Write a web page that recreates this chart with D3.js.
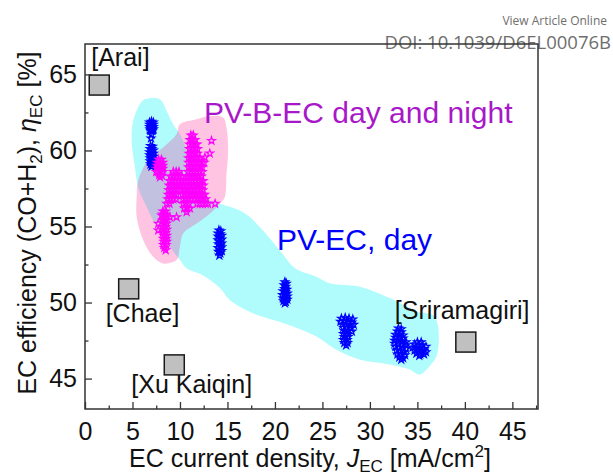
<!DOCTYPE html>
<html>
<head>
<meta charset="utf-8">
<script src="https://cdn.jsdelivr.net/npm/d3@7"></script>
<style>
body{margin:0;background:#fff;}
svg text{font-family:"Liberation Sans",Arial,sans-serif;}
</style>
</head>
<body>
<div id="canvas"></div>
<script>
// tick values
var xTicks = [0,5,10,15,20,25,30,35,40,45];
var xMinor = [2.5,7.5,12.5,17.5,22.5,27.5,32.5,37.5,42.5,47.5];
var yTicks = [45,50,55,60,65];
var yMinor = [47.5,52.5,57.5,62.5];

// literature points
var refLabels = ['[Arai]','[Chae]','[Xu Kaiqin]','[Sriramagiri]'];
var refX = [1.5, 4.6, 9.4, 40.1];
var refY = [64.3, 50.9, 45.9, 47.4];

// shaded regions [J, eta]
var pvecRegion = [[6.31,63.36],[7.89,63.36],[8.59,62.6],[9.28,61.73],[9.99,61.08],[11.57,58.68],[13.14,56.72],
  [14.2,56.5],[16.3,56.06],[17.35,55.62],[18.72,54.75],[20.5,53.44],[22.08,52.27],[24.36,51.7],[25.76,51.27],
  [28.92,51.04],[31.34,50.5],[33.12,49.98],[34.88,49.41],[36.8,49.08],[37.12,46.69],[36.28,45.81],[35.23,45.27],
  [34.17,45.6],[32.07,45.92],[28.92,46.25],[26.47,46.9],[24.36,47.77],[20.85,48.65],[19.1,48.98],[17.35,49.39],
  [15.25,50.17],[14.2,50.96],[12.4,51.8],[10.7,52.25],[10.0,52.79],[8.94,53.66],[7.54,54.97],[6.49,56.28],
  [5.6,57.58],[5.26,58.89],[4.91,60.64],[5.08,61.95],[5.78,63.04]];
var pvbecRegion = [[9.99,61.73],[11.75,62.06],[13.14,62.27],[14.54,62.16],[14.9,61.51],[15.07,59.98],[14.9,58.46],
  [14.72,56.93],[14.2,56.5],[13.14,55.84],[11.75,55.19],[10.34,54.54],[9.99,53.66],[9.64,52.79],[8.23,52.57],
  [7.18,53.01],[6.13,54.1],[5.44,55.62],[5.44,56.93],[5.6,58.02],[6.83,59.55],[8.23,60.2],[9.64,61.08]];

// PV-EC (day) measurements
var pvecPoints = [
  [6.8,61.85],[7.0,61.9],[7.2,61.85],[6.8,61.7],[7.0,61.7],[7.2,61.7],[6.8,61.55],[7.0,61.55],[7.2,61.55],
  [6.85,61.4],[7.05,61.4],[7.2,61.4],[6.9,61.3],[7.1,61.3],[7.0,61.05],[6.95,60.8],
  [6.9,60.3],[7.1,60.25],[6.85,60.1],[7.05,60.1],[7.2,60.0],[6.8,59.9],[7.0,59.85],[7.2,59.8],[6.8,59.7],
  [7.0,59.65],[7.2,59.6],[6.85,59.5],[7.05,59.45],[7.2,59.4],[6.85,59.3],[7.05,59.25],[6.9,59.1],[7.1,59.1],[7.0,58.95],
  [14.1,54.75],[14.3,54.7],[14.0,54.55],[14.25,54.5],[14.4,54.4],[14.0,54.35],[14.2,54.25],[14.4,54.15],[14.0,54.1],
  [14.2,54.0],[14.4,53.9],[14.05,53.85],[14.25,53.75],[14.4,53.65],[14.0,53.6],[14.2,53.5],[14.4,53.4],[14.05,53.35],
  [14.25,53.25],[14.15,53.1],
  [21.05,51.35],[21.2,51.25],[20.95,51.15],[21.15,51.05],[21.0,50.9],[21.25,50.85],[20.85,50.75],[21.1,50.7],
  [21.3,50.6],[20.8,50.5],[21.05,50.5],[21.3,50.4],[20.85,50.3],[21.1,50.25],[21.3,50.2],[20.9,50.1],[21.15,50.05],[21.05,49.95],
  [27.0,48.95],[27.4,49.0],[27.8,48.95],[28.2,48.9],[26.9,48.75],[27.3,48.8],[27.7,48.75],[28.1,48.7],[27.1,48.55],
  [27.5,48.55],[27.9,48.5],[28.3,48.55],[27.2,48.35],[27.6,48.35],[28.0,48.3],[27.3,48.15],[27.7,48.15],[28.1,48.1],
  [27.2,47.95],[27.6,47.95],[27.3,47.75],[27.7,47.75],[27.2,47.55],[27.6,47.55],[27.3,47.35],[27.65,47.35],[27.5,47.2],
  [33.0,48.3],[33.3,48.25],[32.9,48.1],[33.3,48.05],[32.7,47.9],[33.1,47.9],[33.5,47.85],[32.7,47.7],[33.1,47.7],
  [33.5,47.65],[32.6,47.5],[33.0,47.5],[33.4,47.45],[33.8,47.4],[32.6,47.3],[33.0,47.3],[33.4,47.25],[33.8,47.2],
  [32.7,47.1],[33.1,47.05],[33.5,47.0],[33.8,46.95],[32.8,46.85],[33.2,46.8],[33.6,46.75],[32.9,46.6],[33.3,46.55],
  [33.7,46.55],[33.1,46.4],[33.5,46.35],[33.3,46.25],
  [35.0,47.4],[35.4,47.4],[34.7,47.25],[35.1,47.2],[35.5,47.2],[35.9,47.1],[34.5,47.05],[34.9,47.0],[35.3,47.0],
  [35.7,46.95],[34.7,46.85],[35.1,46.8],[35.5,46.8],[35.9,46.75],[34.9,46.65],[35.3,46.6],[35.7,46.6],[35.2,46.5]
];

// PV-B-EC (day and night) measurements
var pvbecPoints = [
  [7.75,59.4],[8.05,59.4],[7.6,59.2],[7.9,59.2],[8.2,59.2],[7.6,59.0],[7.9,59.0],[8.2,59.0],[7.6,58.8],[7.9,58.8],
  [8.2,58.8],[7.65,58.6],[7.95,58.6],[8.2,58.6],[7.8,58.4],[8.1,58.35],[7.9,58.25],
  [8.2,56.0],[8.5,56.0],[8.2,55.8],[8.5,55.8],[8.3,55.6],[8.6,55.6],[8.2,55.4],[8.5,55.4],[8.3,55.2],[8.6,55.2],
  [8.2,55.0],[8.5,55.0],[8.3,54.8],[8.6,54.8],[8.2,54.6],[8.5,54.6],[8.3,54.4],[8.6,54.4],[8.25,54.2],[8.55,54.2],
  [8.3,54.0],[8.6,54.0],[8.25,53.8],[8.55,53.8],[8.35,53.6],[8.5,53.45],
  [13.32,60.64],[13.14,59.81],[12.62,59.55],[12.55,59.2],[13.7,56.5],[9.64,55.62],[8.94,55.62],[8.06,55.73],
  [7.71,55.19],[7.71,54.75],[7.5,58.6]
];
var pvbecRows = [
  [61.0,[11.15,11.4]],
  [60.7,[11.05,11.3,11.6]],
  [60.4,[11.0,11.3,11.6,11.8]],
  [60.1,[11.0,11.3,11.6,11.85]],
  [59.8,[10.95,11.25,11.55,11.85]],
  [59.5,[10.9,11.2,11.5,11.8,12.1]],
  [59.2,[10.9,11.2,11.5,11.8,12.1,12.35]],
  [58.9,[10.9,11.2,11.5,11.8,12.1,12.35]],
  [58.6,[9.3,9.6,9.9,10.85,11.15,11.45,11.75,12.05,12.35]],
  [58.3,[9.0,9.3,9.6,9.9,10.2,10.75,11.05,11.35,11.65,11.95,12.25]],
  [58.0,[8.9,9.2,9.5,9.8,10.1,10.4,10.7,11.0,11.3,11.6,11.9,12.2,12.45]],
  [57.7,[8.85,9.15,9.45,9.75,10.05,10.35,10.65,10.95,11.25,11.55,11.85,12.15,12.45]],
  [57.4,[8.8,9.1,9.4,9.7,10.0,10.3,10.6,10.9,11.2,11.5,11.8,12.1,12.4]],
  [57.1,[8.75,9.05,9.35,9.65,10.25,10.55,10.85,11.15,11.45,11.75,12.05,12.35,12.6]],
  [56.8,[8.7,9.0,9.3,9.6,10.3,10.6,10.9,11.2,11.5,11.8,12.1,12.4,12.7]],
  [56.5,[8.6,8.9,10.35,10.65,10.95,11.8,12.1,12.4,12.7,12.95]],
  [56.2,[10.45,10.75,11.05]],
  [55.95,[10.7]]
];
pvbecRows.forEach(function(r){
  r[1].forEach(function(x){ pvbecPoints.push([x, r[0]]); });
});

// layout
var m = {t:44, r:75, b:64, l:85};
var outerWidth = 613, outerHeight = 473;
var w = outerWidth - m.l - m.r,
    h = outerHeight - m.t - m.b;

var svg = d3.select('#canvas').append('svg')
    .attr('width', outerWidth)
    .attr('height', outerHeight);

// journal header
svg.append('text').attr('x',607).attr('y',25).attr('text-anchor','end')
    .style('font-family','"Open Sans",sans-serif').style('font-size','12px').style('fill','#6e6e6e')
    .text('View Article Online');
svg.append('text').attr('x',611).attr('y',49).attr('text-anchor','end')
    .style('font-family','"Open Sans",sans-serif').style('font-size','18.5px').style('fill','#6e6e6e')
    .text('DOI: 10.1039/D6EL00076B');

var plot = svg.append('g')
    .attr('transform','translate(' + m.l + ',' + m.t + ')');

var scaleX = d3.scaleLinear().domain([0,47.7]).range([0,w]);
var scaleY = d3.scaleLinear().domain([43,67]).range([h,0]);

// regions
var outline = d3.line()
    .x(function(d){ return scaleX(d[0]); })
    .y(function(d){ return scaleY(d[1]); })
    .curve(d3.curveCatmullRomClosed.alpha(0.5));

plot.append('path').datum(pvecRegion).attr('d',outline).attr('fill','#b0fcfc');
plot.append('path').datum(pvbecRegion).attr('d',outline).attr('fill','rgba(255,0,128,0.23)');

// star markers
var star = d3.symbol().type(d3.symbolStar).size(18);

plot.selectAll('.pvec').data(pvecPoints).enter().append('path')
    .attr('class','pvec')
    .attr('transform',function(d){ return 'translate(' + scaleX(d[0]) + ',' + scaleY(d[1]) + ')'; })
    .attr('d',star)
    .attr('fill','none').attr('stroke','#0000ff').attr('stroke-width',1.2);

plot.selectAll('.pvbec').data(pvbecPoints).enter().append('path')
    .attr('class','pvbec')
    .attr('transform',function(d){ return 'translate(' + scaleX(d[0]) + ',' + scaleY(d[1]) + ')'; })
    .attr('d',star)
    .attr('fill','none').attr('stroke','#ff00ff').attr('stroke-width',1.2);

// literature squares + labels
var labelOffset = [[-8,-19],[-23,33],[-43,28],[-71,-23]];
refX.forEach(function(x,i){
    var cx = scaleX(x), cy = scaleY(refY[i]);
    plot.append('rect')
        .attr('x',cx-10).attr('y',cy-10).attr('width',20).attr('height',20)
        .attr('fill','#c0c0c0').attr('stroke','#1a1a1a').attr('stroke-width',1.5);
    plot.append('text')
        .attr('x',cx+labelOffset[i][0]).attr('y',cy+labelOffset[i][1])
        .style('font-size','25px').style('fill','#111')
        .text(refLabels[i]);
});

// annotations
plot.append('text').attr('x',204-m.l).attr('y',123-m.t)
    .style('font-size','30px').style('fill','#a818c8')
    .text('PV-B-EC day and night');
plot.append('text').attr('x',277-m.l).attr('y',250-m.t)
    .style('font-size','30px').style('fill','#0000ff')
    .text('PV-EC, day');

// axes
var axisX = d3.axisBottom(scaleX).tickValues(xTicks).tickSizeInner(-7).tickSizeOuter(0).tickPadding(13);
var axisXm = d3.axisBottom(scaleX).tickValues(xMinor).tickSizeInner(-3.5).tickSizeOuter(0).tickFormat('');
var axisY = d3.axisLeft(scaleY).tickValues(yTicks).tickSizeInner(-7).tickSizeOuter(0).tickPadding(8);
var axisYm = d3.axisLeft(scaleY).tickValues(yMinor).tickSizeInner(-3.5).tickSizeOuter(0).tickFormat('');

[axisX, axisXm].forEach(function(a){
    plot.append('g').attr('class','axis').attr('transform','translate(0,' + h + ')').call(a);
});
[axisY, axisYm].forEach(function(a){
    plot.append('g').attr('class','axis').call(a);
});
plot.selectAll('.axis .domain').remove();
plot.selectAll('.axis line').attr('stroke','#333').attr('stroke-width',1.3);
plot.selectAll('.axis text').style('font-size','25px').style('fill','#111')
    .style('font-family','"Liberation Sans",Arial,sans-serif');

plot.append('rect').attr('width',w).attr('height',h)
    .attr('fill','none').attr('stroke','#333').attr('stroke-width',1.5);

// axis titles
var tx = svg.append('text').attr('x',310).attr('y',467).attr('text-anchor','middle')
    .style('font-size','25px').style('fill','#111');
tx.append('tspan').text('EC current density, ');
tx.append('tspan').style('font-style','italic').text('J');
tx.append('tspan').attr('dy',5).style('font-size','17px').text('EC');
tx.append('tspan').attr('dy',-5).text(' [mA/cm');
tx.append('tspan').attr('dy',-10).style('font-size','17px').text('2');
tx.append('tspan').attr('dy',10).text(']');

var ty = svg.append('text').attr('transform','translate(36,223) rotate(-90)').attr('text-anchor','middle')
    .style('font-size','25px').style('fill','#111');
ty.append('tspan').text('EC efficiency (CO+H');
ty.append('tspan').attr('dy',6).style('font-size','17px').text('2');
ty.append('tspan').attr('dy',-6).text('), ');
ty.append('tspan').style('font-style','italic').text('η');
ty.append('tspan').attr('dy',6).style('font-size','17px').text('EC');
ty.append('tspan').attr('dy',-6).text(' [%]');
</script>
</body>
</html>
